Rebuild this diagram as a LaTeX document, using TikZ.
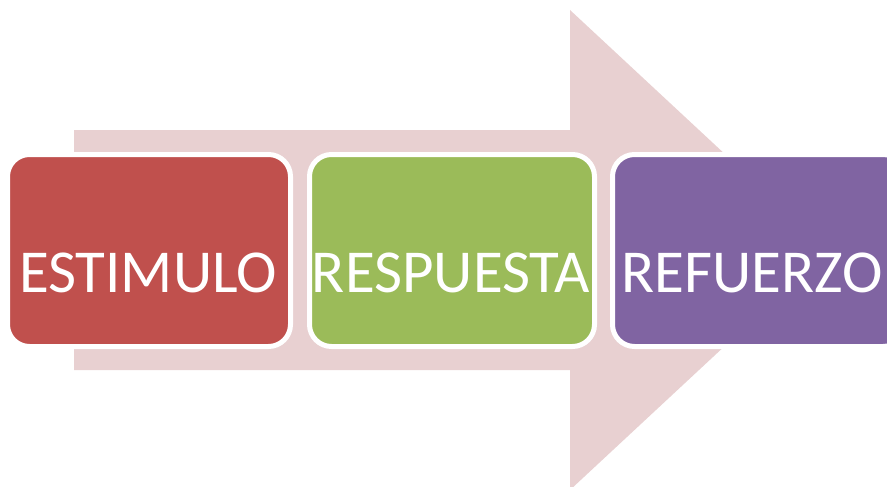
\documentclass[tikz,border=0pt]{standalone}
\usepackage{fontspec}
\setmainfont{Carlito}
\definecolor{arrowpink}{RGB}{232,208,209}
\definecolor{boxred}{RGB}{192,80,77}
\definecolor{boxgreen}{RGB}{155,187,89}
\definecolor{boxpurple}{RGB}{128,100,162}
\begin{document}
\begin{tikzpicture}[x=1pt,y=-1pt,
  stagebox/.style={draw=white,line width=5pt,rounded corners=22pt},
  stagetext/.style={anchor=base,text=white,inner sep=0pt,font=\fontsize{61}{61}\selectfont}]
\useasboundingbox (0,0) rectangle (887,487);
\clip (0,0) rectangle (887,487);
% big arrow
\fill[arrowpink] (74,130) -- (570,130) -- (570,10) -- (828,250) -- (570,490) -- (570,370) -- (74,370) -- cycle;
% boxes
\draw[stagebox,fill=boxred] (7.5,154.5) rectangle (290.5,346.5);
\draw[stagebox,fill=boxgreen] (309.5,154.5) rectangle (594.5,346.5);
\draw[stagebox,fill=boxpurple] (612.5,154.5) rectangle (905,346.5);
\node[stagetext] (est) at (148,292) {ESTIMULO};
\node[stagetext] (res) at (451,292) {RESPUESTA};
\node[stagetext] (ref) at (752,292) {REFUERZO};
\end{tikzpicture}
\end{document}
